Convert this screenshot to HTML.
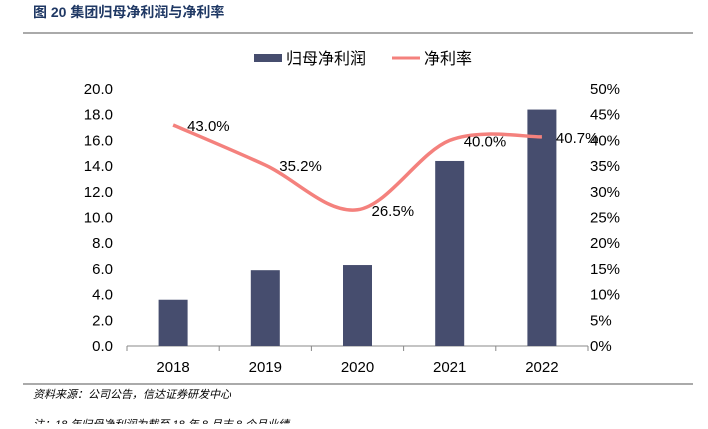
<!DOCTYPE html>
<html><head><meta charset="utf-8"><style>
body{margin:0;background:#fff;width:708px;height:424px;overflow:hidden;font-family:"Liberation Sans","Noto Sans CJK SC",sans-serif;}
svg text{font-family:"Liberation Sans","Noto Sans CJK SC",sans-serif;}
</style></head><body>
<svg width="708" height="424">
<text x="33" y="17" font-size="14" font-weight="bold" fill="#1f3864">图 20  集团归母净利润与净利率</text>
<line x1="23" y1="33" x2="693" y2="33" stroke="#555" stroke-width="1"/>
<g>
<rect x="254" y="54" width="28" height="8" fill="#464d6e"/>
<text x="286" y="64" font-size="16" fill="#000">归母净利润</text>
<line x1="392" y1="58" x2="420" y2="58" stroke="#f4817d" stroke-width="3"/>
<text x="424" y="64" font-size="16" fill="#000">净利率</text>
</g>
<g id="plot"></g>
<line x1="23" y1="384" x2="693" y2="384" stroke="#555" stroke-width="1"/>
<text x="33" y="398" font-size="11" font-style="italic" fill="#000">资料来源：公司公告，信达证券研发中心</text>
<text x="33" y="428" font-size="11" font-style="italic" fill="#000">注：18 年归母净利润为截至 18 年 8 月末 8 个月业绩</text>
</svg>
<script>
const categories=["2018","2019","2020","2021","2022"];
const profitValues=[3.6,5.9,6.3,14.4,18.4];
const marginValues=[43.0,35.2,26.5,40.0,40.7];
const leftTicks=[0,2,4,6,8,10,12,14,16,18,20];
const rightTicks=[0,5,10,15,20,25,30,35,40,45,50];
const NS="http://www.w3.org/2000/svg";
const g=document.getElementById('plot');
const x0=127,x1=588,yTop=89,yBot=346;
const band=(x1-x0)/categories.length;
const xc=i=>x0+band*(i+0.5);
const yL=v=>yBot-(v/20)*(yBot-yTop);
const yR=v=>yBot-(v/50)*(yBot-yTop);
function mk(t,a,txt){const e=document.createElementNS(NS,t);for(const k in a)e.setAttribute(k,a[k]);if(txt!==undefined)e.textContent=txt;g.appendChild(e);return e;}
leftTicks.forEach(v=>{const e=mk('text',{x:113,y:yL(v)+5,'font-size':15,'text-anchor':'end',fill:'#000'},v.toFixed(1));

});
rightTicks.forEach(v=>{const e=mk('text',{x:590,y:yR(v)+5,'font-size':15,fill:'#000'},v+'%');

});
const ax=mk('line',{x1:x0,y1:yBot,x2:x1,y2:yBot,stroke:'#888','stroke-width':1});


for(let i=0;i<=categories.length;i++){const t=mk('line',{x1:x0+band*i,y1:yBot,x2:x0+band*i,y2:yBot+5,stroke:'#888'});

}
categories.forEach((c,i)=>{const e=mk('text',{x:xc(i),y:yBot+26,'font-size':15,'text-anchor':'middle',fill:'#000'},c);

});
profitValues.forEach((v,i)=>{const r=mk('rect',{x:xc(i)-14.5,y:yL(v),width:29,height:yBot-yL(v),fill:'#464d6e'});

});
const pts=marginValues.map((v,i)=>[xc(i),yR(v)]);
let d='M'+pts[0][0]+','+pts[0][1];
for(let i=0;i<pts.length-1;i++){const p0=pts[i-1]||pts[i],p1=pts[i],p2=pts[i+1],p3=pts[i+2]||p2;const t=6;
d+=` C${p1[0]+(p2[0]-p0[0])/t},${p1[1]+(p2[1]-p0[1])/t} ${p2[0]-(p3[0]-p1[0])/t},${p2[1]-(p3[1]-p1[1])/t} ${p2[0]},${p2[1]}`;}
const ln=mk('path',{d:d,fill:'none',stroke:'#f4817d','stroke-width':3.5});


marginValues.forEach((v,i)=>{const e=mk('text',{x:xc(i)+14,y:yR(v)+6,'font-size':15,fill:'#000'},v.toFixed(1)+'%');

});
</script>
</body></html>
